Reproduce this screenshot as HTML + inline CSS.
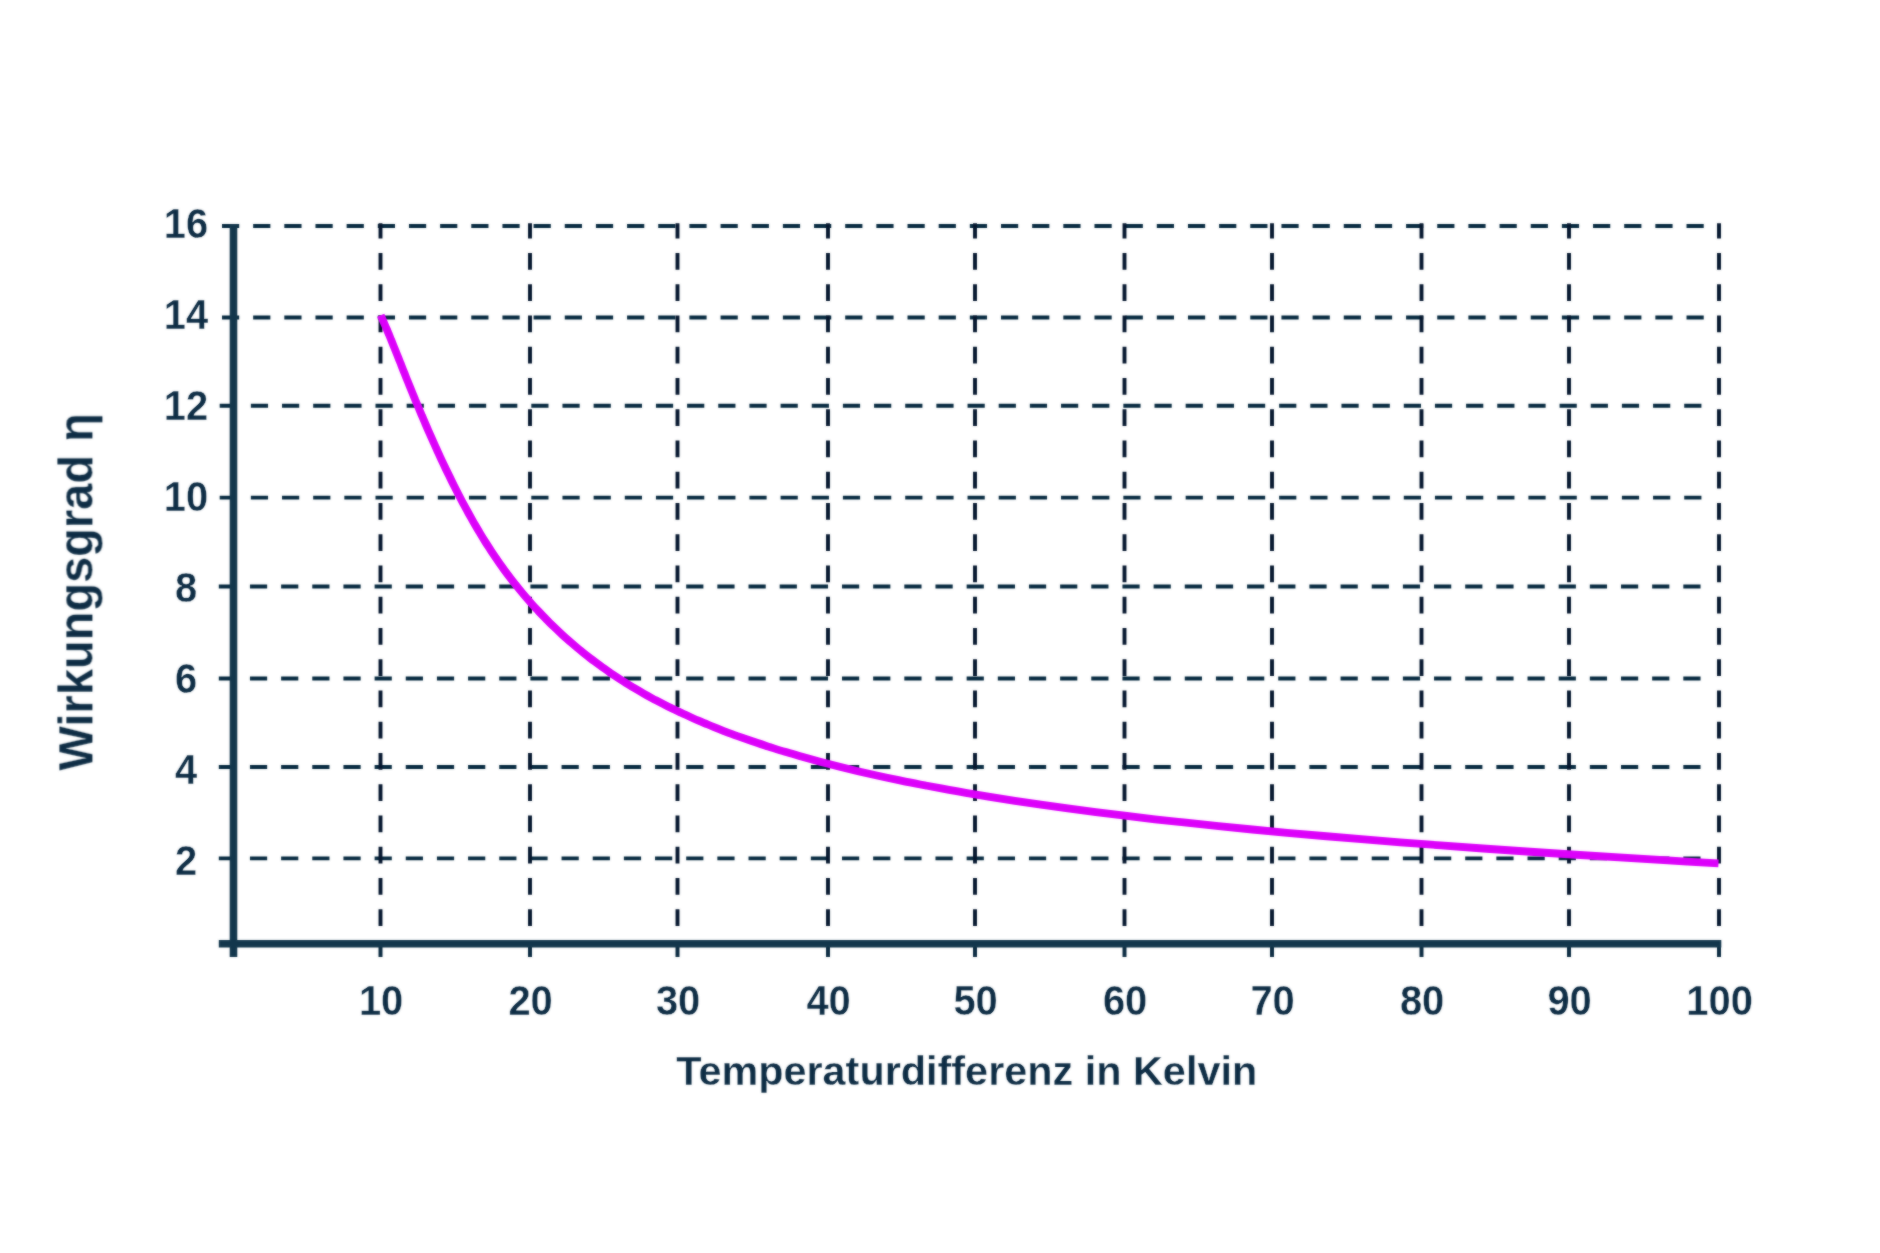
<!DOCTYPE html>
<html><head><meta charset="utf-8"><title>Chart</title>
<style>
html,body{margin:0;padding:0;background:#fff;}
body{width:1880px;height:1253px;overflow:hidden;font-family:"Liberation Sans",sans-serif;}
svg{display:block}
text{font-family:"Liberation Sans",sans-serif;font-weight:bold;fill:#0d2c44}
</style></head><body>
<svg width="1880" height="1253" viewBox="0 0 1880 1253">
<defs><filter id="b" filterUnits="userSpaceOnUse" x="0" y="0" width="1880" height="1253" color-interpolation-filters="sRGB"><feGaussianBlur stdDeviation="0.8" result="bl"/><feComposite in="SourceGraphic" in2="bl" operator="arithmetic" k1="0" k2="0.5" k3="0.5" k4="0"/></filter></defs>
<rect width="1880" height="1253" fill="#fff"/>
<g filter="url(#b)">
<g stroke="#04283e" stroke-width="3.9" stroke-dasharray="17.2 13.96" fill="none">
<path d="M222.0 226.0H1708"/>
<path d="M222.0 317.5H1708"/>
<path d="M219.7 405.8H1708"/>
<path d="M219.7 497.6H1708"/>
<path d="M218.8 586.5H1708"/>
<path d="M218.8 678.5H1708"/>
<path d="M218.8 767.0H1708"/>
<path d="M218.8 858.4H1708"/>
</g>
<g stroke="#03152d" stroke-width="3.9" stroke-dasharray="16.7 14.55" stroke-dashoffset="1.5" fill="none">
<path d="M380.5 223.3V926"/>
<path d="M530.0 223.3V926"/>
<path d="M677.5 223.3V926"/>
<path d="M828.0 223.3V926"/>
<path d="M975.0 223.3V926"/>
<path d="M1124.5 223.3V926"/>
<path d="M1272.0 223.3V926"/>
<path d="M1421.5 223.3V926"/>
<path d="M1569.0 223.3V926"/>
<path d="M1719.0 223.3V926"/>
</g>
<g stroke="#0a2a40" stroke-width="4" fill="none">
<path d="M380.5 943V957"/>
<path d="M530.0 943V957"/>
<path d="M677.5 943V957"/>
<path d="M828.0 943V957"/>
<path d="M975.0 943V957"/>
<path d="M1124.5 943V957"/>
<path d="M1272.0 943V957"/>
<path d="M1421.5 943V957"/>
<path d="M1569.0 943V957"/>
<path d="M1719.0 943V957"/>
</g>
<g stroke="#12364c" stroke-width="7.6" fill="none">
<path d="M233.5 224.2V957"/>
<path d="M218.8 943.8H1721.3"/>
</g>
<path d="M380.7 315.3 C381.0 316.0 382.0 318.1 382.6 319.6 C383.3 321.1 383.9 322.6 384.6 324.2 C385.3 325.8 386.0 327.4 386.7 329.1 C387.4 330.7 388.1 332.5 388.8 334.2 C389.6 336.0 390.3 337.8 391.1 339.7 C391.8 341.6 392.6 343.5 393.4 345.4 C394.2 347.4 395.0 349.4 395.8 351.4 C396.6 353.4 397.4 355.5 398.3 357.6 C399.1 359.8 400.0 361.9 400.9 364.1 C401.7 366.3 402.6 368.6 403.5 370.9 C404.5 373.1 405.4 375.5 406.3 377.8 C407.3 380.2 408.2 382.6 409.2 385.0 C410.2 387.4 411.2 389.9 412.2 392.4 C413.2 394.9 414.3 397.4 415.3 400.0 C416.4 402.5 417.5 405.1 418.6 407.7 C419.7 410.4 420.8 413.0 421.9 415.7 C423.1 418.4 424.2 421.1 425.4 423.9 C426.6 426.6 427.8 429.4 429.0 432.2 C430.3 435.0 431.5 437.8 432.8 440.6 C434.1 443.5 435.3 446.4 436.7 449.3 C438.0 452.2 439.3 455.1 440.7 458.1 C442.1 461.0 443.5 464.0 444.9 467.0 C446.3 470.0 447.8 473.0 449.3 476.0 C450.7 479.0 452.2 482.1 453.8 485.2 C455.3 488.2 456.9 491.3 458.5 494.4 C460.1 497.5 461.7 500.6 463.3 503.7 C465.0 506.8 466.7 509.9 468.4 513.0 C470.1 516.1 471.9 519.2 473.6 522.3 C475.4 525.4 477.2 528.6 479.1 531.6 C480.9 534.7 482.8 537.8 484.7 540.9 C486.6 544.0 488.6 547.0 490.6 550.1 C492.6 553.1 494.6 556.1 496.7 559.1 C498.7 562.2 500.8 565.1 503.0 568.1 C505.1 571.1 507.3 574.0 509.5 576.9 C511.8 579.9 514.0 582.8 516.4 585.6 C518.7 588.5 521.0 591.4 523.4 594.2 C525.8 597.1 528.3 599.9 530.7 602.7 C533.2 605.5 535.8 608.3 538.3 611.0 C540.9 613.8 543.6 616.5 546.2 619.2 C548.9 622.0 551.7 624.7 554.4 627.3 C557.2 630.0 560.1 632.7 562.9 635.3 C565.8 637.9 568.8 640.5 571.8 643.1 C574.8 645.7 577.8 648.3 580.9 650.8 C584.0 653.4 587.2 655.9 590.4 658.4 C593.7 660.9 597.0 663.3 600.3 665.7 C603.7 668.2 607.1 670.6 610.5 673.0 C614.0 675.3 617.6 677.7 621.2 680.0 C624.8 682.3 628.5 684.6 632.2 686.9 C636.0 689.1 639.8 691.4 643.7 693.6 C647.6 695.8 651.5 697.9 655.5 700.1 C659.6 702.2 663.7 704.3 667.9 706.4 C672.1 708.5 676.3 710.6 680.7 712.6 C685.0 714.7 689.5 716.7 694.0 718.7 C698.5 720.6 703.1 722.6 707.8 724.5 C712.4 726.5 717.2 728.4 722.1 730.3 C726.9 732.2 731.9 734.0 736.9 735.9 C742.0 737.7 747.1 739.5 752.4 741.3 C757.6 743.1 762.9 744.8 768.4 746.6 C773.8 748.3 779.3 750.1 785.0 751.8 C790.6 753.5 796.4 755.1 802.2 756.8 C808.1 758.5 814.0 760.1 820.1 761.7 C826.2 763.3 832.4 764.9 838.7 766.5 C845.0 768.1 851.4 769.6 857.9 771.2 C864.5 772.7 871.2 774.2 878.0 775.7 C884.7 777.2 891.7 778.7 898.7 780.1 C905.8 781.6 912.9 783.1 920.3 784.5 C927.6 785.9 935.0 787.3 942.6 788.7 C950.2 790.1 958.0 791.5 965.8 792.8 C973.7 794.2 981.8 795.5 989.9 796.9 C998.1 798.2 1006.5 799.5 1014.9 800.8 C1023.4 802.1 1032.1 803.4 1040.9 804.7 C1049.7 805.9 1058.7 807.2 1067.8 808.4 C1077.0 809.7 1086.3 810.9 1095.8 812.1 C1105.3 813.3 1115.0 814.5 1124.8 815.7 C1134.7 816.9 1144.7 818.1 1154.9 819.3 C1165.2 820.4 1175.6 821.6 1186.2 822.7 C1196.8 823.9 1207.6 825.0 1218.6 826.1 C1229.6 827.3 1240.9 828.4 1252.3 829.5 C1263.7 830.6 1275.4 831.7 1287.2 832.8 C1299.1 833.8 1311.2 834.9 1323.5 836.0 C1335.8 837.1 1348.4 838.1 1361.2 839.2 C1374.0 840.2 1387.0 841.3 1400.2 842.3 C1413.5 843.3 1427.0 844.4 1440.8 845.4 C1454.6 846.4 1468.6 847.4 1482.9 848.5 C1497.2 849.5 1511.7 850.5 1526.6 851.5 C1541.4 852.5 1556.5 853.5 1571.9 854.5 C1587.3 855.5 1603.0 856.5 1619.0 857.4 C1634.9 858.4 1651.2 859.4 1667.8 860.4 C1684.4 861.4 1710.1 862.8 1718.5 863.3" stroke="#dc00fa" stroke-width="7.8" fill="none" stroke-linecap="butt" stroke-linejoin="round"/>
<text x="186" y="237.8" font-size="42" text-anchor="middle" textLength="44.4" lengthAdjust="spacingAndGlyphs" stroke="#fff" stroke-width="0.35">16</text>
<text x="186" y="328.8" font-size="42" text-anchor="middle" textLength="44.4" lengthAdjust="spacingAndGlyphs" stroke="#fff" stroke-width="0.35">14</text>
<text x="186" y="419.8" font-size="42" text-anchor="middle" textLength="44.4" lengthAdjust="spacingAndGlyphs" stroke="#fff" stroke-width="0.35">12</text>
<text x="186" y="510.8" font-size="42" text-anchor="middle" textLength="44.4" lengthAdjust="spacingAndGlyphs" stroke="#fff" stroke-width="0.35">10</text>
<text x="186" y="601.8" font-size="42" text-anchor="middle" textLength="22.2" lengthAdjust="spacingAndGlyphs" stroke="#fff" stroke-width="0.35">8</text>
<text x="186" y="692.8" font-size="42" text-anchor="middle" textLength="22.2" lengthAdjust="spacingAndGlyphs" stroke="#fff" stroke-width="0.35">6</text>
<text x="186" y="783.8" font-size="42" text-anchor="middle" textLength="22.2" lengthAdjust="spacingAndGlyphs" stroke="#fff" stroke-width="0.35">4</text>
<text x="186" y="874.8" font-size="42" text-anchor="middle" textLength="22.2" lengthAdjust="spacingAndGlyphs" stroke="#fff" stroke-width="0.35">2</text>
<text x="381.1" y="1015.2" font-size="42" text-anchor="middle" textLength="44.4" lengthAdjust="spacingAndGlyphs" stroke="#fff" stroke-width="0.35">10</text>
<text x="530.6" y="1015.2" font-size="42" text-anchor="middle" textLength="44.4" lengthAdjust="spacingAndGlyphs" stroke="#fff" stroke-width="0.35">20</text>
<text x="678.1" y="1015.2" font-size="42" text-anchor="middle" textLength="44.4" lengthAdjust="spacingAndGlyphs" stroke="#fff" stroke-width="0.35">30</text>
<text x="828.6" y="1015.2" font-size="42" text-anchor="middle" textLength="44.4" lengthAdjust="spacingAndGlyphs" stroke="#fff" stroke-width="0.35">40</text>
<text x="975.6" y="1015.2" font-size="42" text-anchor="middle" textLength="44.4" lengthAdjust="spacingAndGlyphs" stroke="#fff" stroke-width="0.35">50</text>
<text x="1125.1" y="1015.2" font-size="42" text-anchor="middle" textLength="44.4" lengthAdjust="spacingAndGlyphs" stroke="#fff" stroke-width="0.35">60</text>
<text x="1272.6" y="1015.2" font-size="42" text-anchor="middle" textLength="44.4" lengthAdjust="spacingAndGlyphs" stroke="#fff" stroke-width="0.35">70</text>
<text x="1422.1" y="1015.2" font-size="42" text-anchor="middle" textLength="44.4" lengthAdjust="spacingAndGlyphs" stroke="#fff" stroke-width="0.35">80</text>
<text x="1569.6" y="1015.2" font-size="42" text-anchor="middle" textLength="44.4" lengthAdjust="spacingAndGlyphs" stroke="#fff" stroke-width="0.35">90</text>
<text x="1719.6" y="1015.2" font-size="42" text-anchor="middle" textLength="66.6" lengthAdjust="spacingAndGlyphs" stroke="#fff" stroke-width="0.35">100</text>
<text x="966.7" y="1085" font-size="41.5" text-anchor="middle" textLength="581" lengthAdjust="spacingAndGlyphs" fill="#0b2a42" stroke="#fff" stroke-width="0.3">Temperaturdifferenz in Kelvin</text>
<text transform="translate(92.7 591.8) rotate(-90) scale(1 1.03)" font-size="47" text-anchor="middle" fill="#0b2a42" stroke="#fff" stroke-width="0.2">Wirkungsgrad η</text>
</g></svg></body></html>
